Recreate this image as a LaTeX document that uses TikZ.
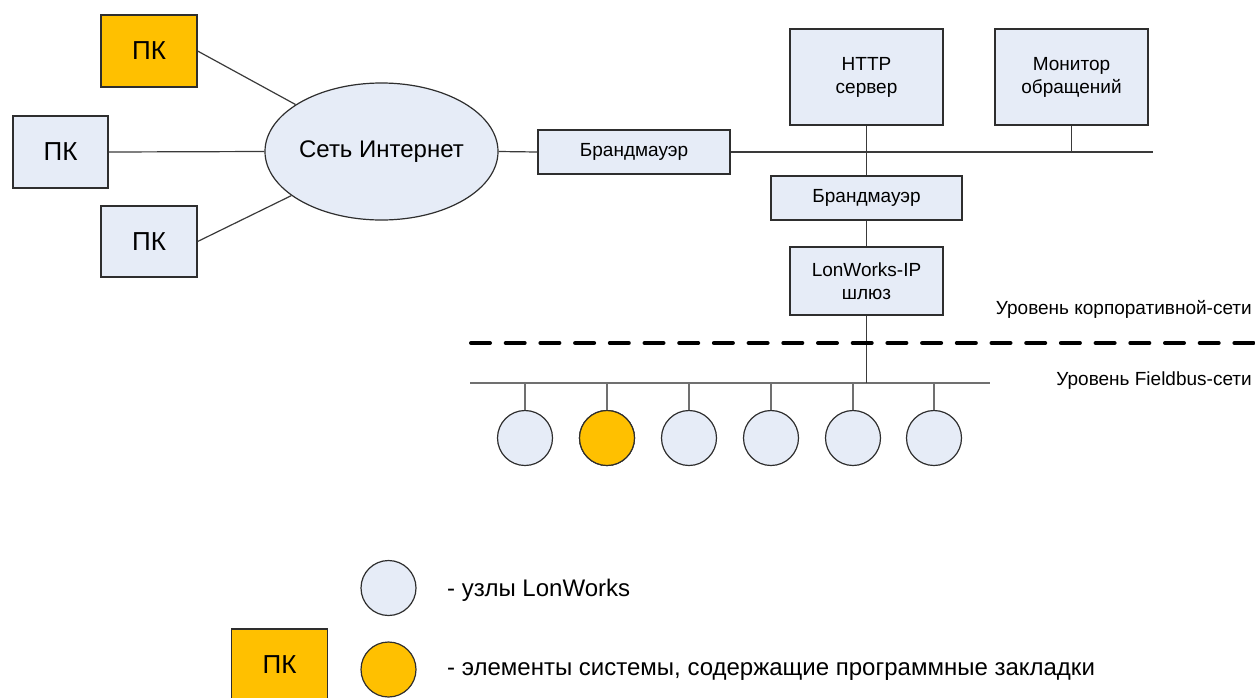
\documentclass[tikz,border=0pt]{standalone}
\usepackage{fontspec}
\setmainfont{Liberation Sans}
\usetikzlibrary{shapes.geometric}
\definecolor{boxblue}{HTML}{E6ECF7}
\definecolor{orangef}{HTML}{FFC000}
\definecolor{edgec}{HTML}{2E2E2E}
\definecolor{linec}{HTML}{3A3A3A}
\definecolor{stubc}{HTML}{707070}
\begin{document}
\begin{tikzpicture}[x=1pt,y=-1pt,
  box/.style={draw=edgec, line width=1.2pt, fill=boxblue, inner sep=0pt, align=center,
    font=\fontsize{19}{23}\selectfont},
  pkbox/.style={box, minimum width=96pt, minimum height=72pt, font=\fontsize{26}{30}\selectfont},
  orangebox/.style={fill=orangef},
  netnode/.style={draw=edgec, line width=1.2pt, fill=boxblue, ellipse, inner sep=0pt,
    minimum width=231pt, minimum height=137pt, font=\fontsize{24}{28}\selectfont},
  lonnode/.style={draw=edgec, line width=1.2pt, fill=boxblue, circle, inner sep=0pt, minimum size=55pt},
  conn/.style={draw=linec, line width=1.2pt},
  stub/.style={draw=stubc, line width=1.2pt},
  levellabel/.style={inner sep=0pt, anchor=base east, font=\fontsize{19}{23}\selectfont},
  legendtext/.style={inner sep=0pt, anchor=base west, font=\fontsize{24}{28}\selectfont},
  divider/.style={line width=4pt, dash pattern=on 19pt off 15.7pt, line cap=round}
]
\useasboundingbox (0,0) rectangle (1255,697);

% PCs and Internet
\node[pkbox, orangebox] (pc1) at (149,51) {ПК};
\node[pkbox, minimum width=95pt] (pc2) at (60.5,152) {ПК};
\node[pkbox, minimum height=71pt] (pc3) at (149,241.5) {ПК};
\node[netnode] (inet) at (381.5,151.5) {Сеть Интернет};

% corporate network
\node[box, minimum width=192pt, minimum height=44pt] (fw1) at (634,152) {Брандмауэр};
\node[box, minimum width=153pt, minimum height=96pt] (http) at (866.5,77) {HTTP\\сервер};
\node[box, minimum width=153pt, minimum height=96pt] (mon) at (1071.5,77) {Монитор\\обращений};
\node[box, minimum width=191pt, minimum height=44pt] (fw2) at (866.5,198) {Брандмауэр};
\node[box, minimum width=153pt, minimum height=68pt] (gw) at (866.5,281) {LonWorks-IP\\шлюз};

\coordinate (busR) at (1153,152);
\coordinate (fbL) at (470,383);
\coordinate (fbR) at (990,383);

\draw[conn] (pc1.east) -- (inet);
\draw[conn] (pc2.east) -- (inet.west);
\draw[conn] (pc3.east) -- (inet);
\draw[conn] (inet.east) -- (fw1.west);
\draw[conn] (fw1.east) -- (busR);
\draw[conn] (http.south) -- (fw2.north);
\draw[conn] (mon.south) -- (mon.south |- busR);
\draw[conn] (fw2.south) -- (gw.north);

% field level
\foreach \i/\x in {1/525,2/607,3/689,4/771,5/853,6/934}{
  \node[lonnode] (c\i) at (\x,438) {};
}
\node[lonnode, fill=orangef] at (c2) {};
\draw[stub] (fbL) -- (fbR);
\draw[conn] (gw.south) -- (gw.south |- fbL);
\foreach \i in {1,...,6}{
  \draw[stub] (c\i.north) -- (c\i.north |- fbL);
}

% divider and level labels
\coordinate (dL) at (471,343);
\coordinate (dR) at (1256,343);
\draw[divider] (dL) -- (dR);
\node[levellabel] (lvl1) at (1252,314) {Уровень корпоративной-сети};
\node[levellabel] (lvl2) at (1252,385) {Уровень Fieldbus-сети};

% legend
\node[lonnode] (lg1) at (388.5,588) {};
\node[legendtext] (lt1) at (447,596) {- узлы LonWorks};
\node[pkbox, orangebox] (lgpc) at (279.5,665) {ПК};
\node[lonnode, fill=orangef] (lg2) at (388.5,669.5) {};
\node[legendtext] (lt2) at (447,675) {- элементы системы, содержащие программные закладки};
\end{tikzpicture}
\end{document}
